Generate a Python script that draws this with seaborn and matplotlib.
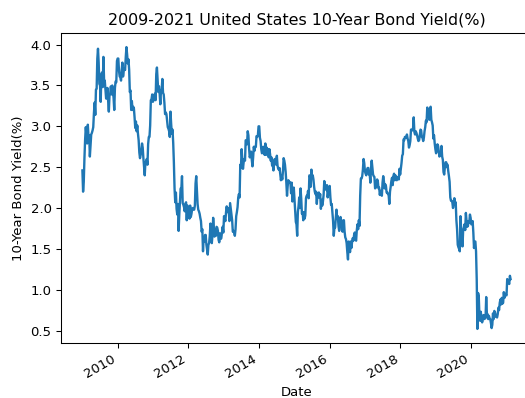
import pandas as pd
import matplotlib
matplotlib.use("Agg")
import matplotlib.pyplot as plt
import matplotlib.dates as mdates
import seaborn as sns

# Weekly (Friday) 10-year Treasury yields, in percent
y2009 = [2.46, 2.20, 2.32, 2.61, 2.84, 2.99, 2.89, 2.79, 3.02, 2.87,
         2.89, 2.63, 2.76, 2.90, 2.92, 2.95, 2.99, 3.16, 3.29, 3.14,
         3.45, 3.46, 3.83, 3.95, 3.78, 3.52, 3.50, 3.30, 3.64, 3.66,
         3.48, 3.85, 3.56, 3.56, 3.45, 3.34, 3.34, 3.47, 3.31, 3.18,
         3.38, 3.40, 3.49, 3.39, 3.50, 3.42, 3.35, 3.20, 3.47, 3.55,
         3.54, 3.80]
y2010 = [3.83, 3.83, 3.68, 3.61, 3.60, 3.56, 3.69, 3.78, 3.61, 3.68,
         3.71, 3.69, 3.85, 3.97, 3.88, 3.77, 3.82, 3.69, 3.42, 3.44,
         3.20, 3.31, 3.20, 3.24, 3.22, 3.11, 2.98, 3.06, 2.94, 3.01,
         2.91, 2.83, 2.68, 2.61, 2.65, 2.71, 2.79, 2.74, 2.61, 2.51,
         2.40, 2.56, 2.56, 2.60, 2.53, 2.78, 2.87, 2.87, 3.01, 3.32,
         3.33, 3.39, 3.30]
y2011 = [3.32, 3.33, 3.40, 3.32, 3.64, 3.72, 3.58, 3.42, 3.49, 3.40,
         3.27, 3.44, 3.45, 3.58, 3.41, 3.39, 3.29, 3.15, 3.17, 3.15,
         3.07, 2.99, 2.97, 2.94, 2.87, 3.18, 3.03, 2.91, 2.96, 2.80,
         2.56, 2.24, 2.07, 2.19, 1.99, 1.92, 2.05, 1.72, 1.92, 2.08,
         2.24, 2.23, 2.39, 2.06, 2.04, 2.01, 1.96, 2.05, 2.07, 1.85,
         2.03, 1.89]
y2012 = [1.96, 1.87, 2.03, 1.89, 1.93, 1.99, 2.00, 1.98, 1.98, 2.03,
         2.30, 2.39, 2.23, 2.05, 1.98, 1.96, 1.93, 1.88, 1.84, 1.71,
         1.74, 1.47, 1.64, 1.59, 1.67, 1.67, 1.55, 1.49, 1.43, 1.55,
         1.57, 1.66, 1.81, 1.69, 1.57, 1.67, 1.88, 1.76, 1.65, 1.74,
         1.66, 1.77, 1.76, 1.72, 1.61, 1.58, 1.69, 1.62, 1.63, 1.70,
         1.77, 1.70]
y2013 = [1.90, 1.87, 1.84, 1.95, 2.02, 1.95, 2.00, 1.96, 1.84, 2.06,
         1.99, 1.93, 1.85, 1.71, 1.72, 1.70, 1.66, 1.74, 1.90, 1.95,
         2.01, 2.13, 2.17, 2.13, 2.53, 2.49, 2.72, 2.59, 2.48, 2.56,
         2.60, 2.58, 2.83, 2.82, 2.78, 2.94, 2.89, 2.73, 2.62, 2.65,
         2.69, 2.59, 2.51, 2.62, 2.75, 2.70, 2.75, 2.75, 2.88, 2.87,
         2.89, 3.00]
y2014 = [3.00, 2.86, 2.82, 2.72, 2.67, 2.68, 2.75, 2.73, 2.65, 2.79,
         2.65, 2.74, 2.72, 2.72, 2.62, 2.72, 2.66, 2.58, 2.62, 2.52,
         2.53, 2.46, 2.59, 2.60, 2.60, 2.53, 2.64, 2.52, 2.48, 2.47,
         2.49, 2.42, 2.34, 2.40, 2.35, 2.45, 2.61, 2.58, 2.53, 2.44,
         2.31, 2.15, 2.27, 2.34, 2.31, 2.32, 2.31, 2.18, 2.31, 2.08,
         2.16, 2.25]
y2015 = [2.11, 1.95, 1.83, 1.80, 1.66, 1.95, 2.02, 2.13, 2.00, 2.24,
         2.11, 1.93, 1.95, 1.85, 1.95, 1.87, 1.91, 2.12, 2.15, 2.14,
         2.21, 2.12, 2.40, 2.39, 2.26, 2.47, 2.38, 2.40, 2.35, 2.26,
         2.20, 2.17, 2.20, 2.05, 2.18, 2.13, 2.19, 2.13, 2.17, 1.99,
         2.10, 2.03, 2.08, 2.16, 2.33, 2.28, 2.26, 2.22, 2.28, 2.13,
         2.20, 2.25]
y2016 = [2.27, 2.13, 2.04, 2.05, 1.94, 1.84, 1.66, 1.76, 1.76, 1.88,
         1.98, 1.87, 1.90, 1.78, 1.72, 1.76, 1.89, 1.83, 1.79, 1.71,
         1.85, 1.85, 1.71, 1.64, 1.62, 1.57, 1.46, 1.37, 1.59, 1.57,
         1.46, 1.59, 1.51, 1.58, 1.63, 1.60, 1.67, 1.70, 1.62, 1.60,
         1.73, 1.80, 1.74, 1.85, 1.78, 2.15, 2.36, 2.36, 2.39, 2.47,
         2.60, 2.55, 2.45]
y2017 = [2.42, 2.40, 2.47, 2.49, 2.49, 2.41, 2.42, 2.31, 2.49, 2.58,
         2.50, 2.41, 2.39, 2.38, 2.24, 2.25, 2.29, 2.35, 2.33, 2.24,
         2.25, 2.16, 2.21, 2.16, 2.15, 2.31, 2.39, 2.33, 2.24, 2.29,
         2.27, 2.19, 2.19, 2.17, 2.16, 2.05, 2.20, 2.26, 2.33, 2.37,
         2.28, 2.39, 2.42, 2.34, 2.40, 2.35, 2.34, 2.37, 2.38, 2.35,
         2.48, 2.41]
y2018 = [2.48, 2.55, 2.64, 2.66, 2.84, 2.83, 2.87, 2.87, 2.86, 2.90,
         2.85, 2.82, 2.74, 2.77, 2.82, 2.96, 2.96, 2.95, 2.97, 3.11,
         2.93, 2.90, 2.94, 2.92, 2.89, 2.85, 2.82, 2.83, 2.89, 2.96,
         2.95, 2.87, 2.86, 2.82, 2.86, 2.94, 2.99, 3.07, 3.05, 3.23,
         3.16, 3.19, 3.08, 3.21, 3.24, 3.08, 3.05, 3.01, 2.85, 2.89,
         2.79, 2.72]
y2019 = [2.67, 2.70, 2.78, 2.76, 2.69, 2.63, 2.66, 2.65, 2.76, 2.63,
         2.59, 2.44, 2.41, 2.50, 2.56, 2.56, 2.50, 2.53, 2.45, 2.39,
         2.32, 2.13, 2.09, 2.09, 2.07, 2.00, 2.04, 2.12, 2.05, 2.07,
         1.85, 1.74, 1.55, 1.52, 1.50, 1.47, 1.90, 1.74, 1.69, 1.53,
         1.73, 1.76, 1.80, 1.73, 1.94, 1.84, 1.77, 1.78, 1.84, 1.82,
         1.92, 1.88]
y2020 = [1.80, 1.82, 1.84, 1.70, 1.51, 1.59, 1.59, 1.47, 1.13, 0.52,
         0.96, 0.92, 0.68, 0.62, 0.73, 0.65, 0.60, 0.64, 0.69, 0.64,
         0.66, 0.65, 0.91, 0.71, 0.70, 0.64, 0.68, 0.65, 0.64, 0.59,
         0.53, 0.57, 0.71, 0.64, 0.74, 0.72, 0.67, 0.69, 0.66, 0.70,
         0.78, 0.75, 0.84, 0.88, 0.82, 0.90, 0.83, 0.84, 0.97, 0.90,
         0.95, 0.94]
y2021 = [0.93, 1.13, 1.10, 1.09, 1.07, 1.17, 1.13]

years = list(range(2009, 2022))
series = [y2009, y2010, y2011, y2012, y2013, y2014, y2015,
          y2016, y2017, y2018, y2019, y2020, y2021]

frames = []
for year, vals in zip(years, series):
    dates = pd.date_range(f"{year}-01-01", periods=len(vals), freq="W-FRI")
    frames.append(pd.DataFrame({"Date": dates, "10-Year Bond Yield(%)": vals}))
df = pd.concat(frames, ignore_index=True)

fig = plt.figure(figsize=(5.25, 3.98), dpi=100)
ax = fig.add_axes([61 / 525, 55 / 398, 471 / 525, 310 / 398])

sns.lineplot(data=df, x="Date", y="10-Year Bond Yield(%)", ax=ax,
             color="#1f77b4", linewidth=1.7)

ax.xaxis.set_major_locator(mdates.YearLocator(2))
ax.xaxis.set_major_formatter(mdates.DateFormatter("%Y"))
ax.tick_params(labelsize=9.5, length=3.3, width=0.76)
plt.setp(ax.get_xticklabels(), rotation=30, ha="right")
for sp in ax.spines.values():
    sp.set_linewidth(0.76)
# the plot area runs past the right edge of the canvas
ax.spines["right"].set_visible(False)

ax.set_xlabel("Date", fontsize=9.5)
ax.set_ylabel("10-Year Bond Yield(%)", fontsize=9.5)
ax.set_title("2009-2021 United States 10-Year Bond Yield(%)", fontsize=11.4)

fig.savefig("out.png", dpi=100)
